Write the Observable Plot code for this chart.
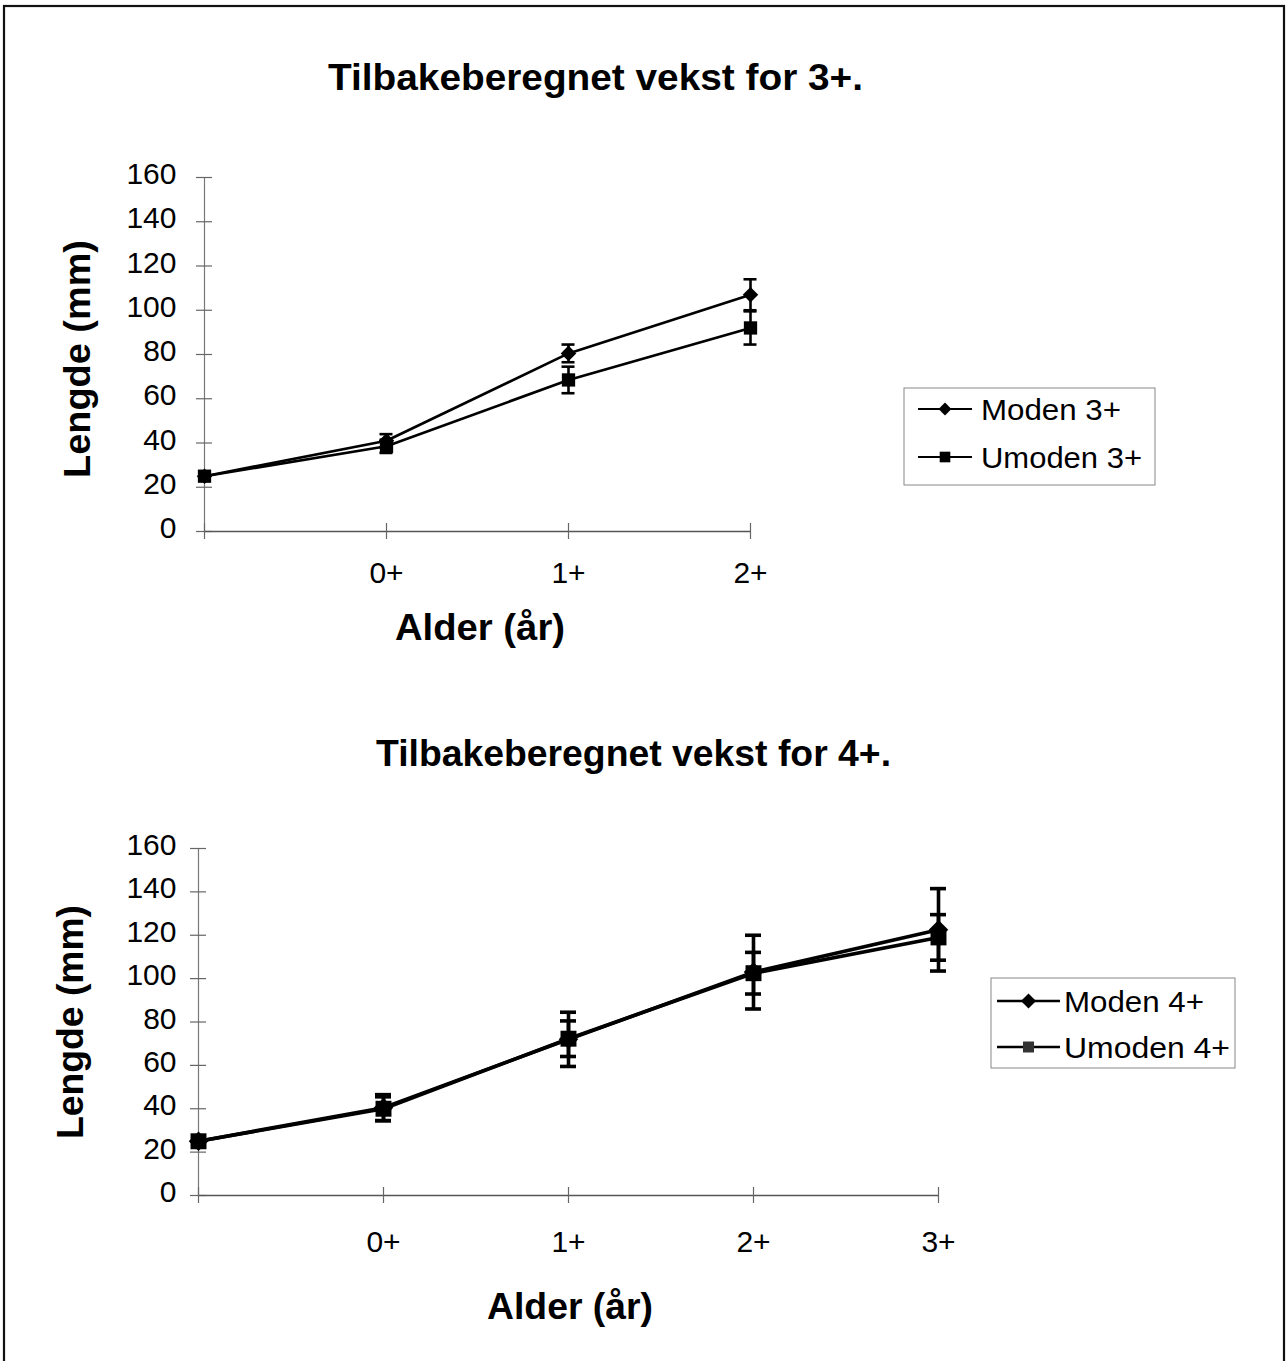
<!DOCTYPE html>
<html>
<head>
<meta charset="utf-8">
<script src="https://cdn.jsdelivr.net/npm/d3@7"></script>
<script src="https://cdn.jsdelivr.net/npm/@observablehq/plot@0.6"></script>
<style>
  body { margin: 0; background: #fff; }
  #page { position: relative; width: 1287px; height: 1361px; overflow: hidden; background: #fff;
          font-family: "Liberation Sans", Arial, sans-serif; }
  #page > svg { position: absolute; }
</style>
</head>
<body>
<div id="page"></div>
<script>
// Back-calculated length (mm) by age, for fish aged 3+ and 4+
const ages3 = ["", "0+", "1+", "2+"];
const moden3 = [25, 41, 80.5, 107];
const moden3Err = [0, 3, 4, 7];
const umoden3 = [25, 38.5, 68.5, 92];
const umoden3Err = [0, 3, 6, 7.5];

const ages4 = ["", "0+", "1+", "2+", "3+"];
const moden4 = [25, 40.5, 72, 103, 122.5];
const moden4Err = [0, 6, 12.5, 17, 19];
const umoden4 = [25, 40, 72.3, 102.5, 119];
const umoden4Err = [0, 5.5, 8.2, 9.6, 10.5];

const yTicks = [0, 20, 40, 60, 80, 100, 120, 140, 160];

const titles = ["Tilbakeberegnet vekst for 3+.", "Tilbakeberegnet vekst for 4+."];
const yLabel = "Lengde (mm)";
const xLabel = "Alder (år)";
const seriesNames3 = ["Moden 3+", "Umoden 3+"];
const seriesNames4 = ["Moden 4+", "Umoden 4+"];

const FONT = '"Liberation Sans", Arial, sans-serif';
const page = document.getElementById("page");

function rows(ages, values, errs) {
  return ages.map((age, i) => ({age, v: values[i], e: errs[i]}));
}

function seriesMarks(data, symbol, r, sw, cap, fill) {
  const withErr = data.filter(d => d.e > 0);
  return [
    Plot.line(data, {x: "age", y: "v", stroke: "#000", strokeWidth: sw, strokeLinejoin: "round"}),
    Plot.ruleX(withErr, {x: "age", y1: d => d.v - d.e, y2: d => d.v + d.e, stroke: "#000", strokeWidth: sw}),
    Plot.ruleY(withErr, {y: d => d.v + d.e, x1: "age", x2: "age", insetLeft: -cap, insetRight: -cap, stroke: "#000", strokeWidth: sw}),
    Plot.ruleY(withErr, {y: d => d.v - d.e, x1: "age", x2: "age", insetLeft: -cap, insetRight: -cap, stroke: "#000", strokeWidth: sw}),
    Plot.dot(data, {x: "age", y: "v", symbol, r, fill, stroke: "none"})
  ];
}

function chart(cfg) {
  const first = cfg.ages[0], last = cfg.ages[cfg.ages.length - 1];
  const svg = Plot.plot({
    width: cfg.width, height: cfg.height,
    marginLeft: cfg.ml, marginRight: cfg.mr, marginTop: cfg.mt, marginBottom: cfg.mb,
    x: {type: "point", domain: cfg.ages, padding: 0, axis: null},
    y: {domain: [0, 160], axis: null},
    style: {fontFamily: FONT, fontSize: "30px", color: "#000", background: "transparent", overflow: "visible"},
    marks: [
      Plot.axisY(yTicks, {tickSize: 0, tickPadding: cfg.yPad, dy: -3, fontSize: 30, label: null}),
      Plot.axisX(cfg.ages, {tickSize: 0, tickPadding: cfg.xPad, fontSize: 30, label: null}),
      // y axis line with cross ticks
      Plot.ruleX([first], {x: d => d, y1: 0, y2: 160, stroke: "#777", strokeWidth: 1.2}),
      Plot.ruleY(yTicks, {y: d => d, x1: () => first, x2: () => first, insetLeft: -8, insetRight: -8, stroke: "#666", strokeWidth: 1.2}),
      // x axis line with cross ticks
      Plot.ruleY([0], {x1: () => first, x2: () => last, stroke: "#555", strokeWidth: 1.3}),
      Plot.ruleX(cfg.ages, {x: d => d, y1: 0, y2: 0, insetTop: -8, insetBottom: -8, stroke: "#666", strokeWidth: 1.2}),
      ...seriesMarks(rows(cfg.ages, cfg.moden, cfg.modenErr), "diamond2", cfg.rD, cfg.sw, cfg.cap, "#000"),
      ...seriesMarks(rows(cfg.ages, cfg.umoden, cfg.umodenErr), "square", cfg.rS, cfg.sw, cfg.cap, "#000")
    ]
  });
  svg.style.left = cfg.left + "px";
  svg.style.top = cfg.top + "px";
  page.appendChild(svg);
}

chart({
  ages: ages3, moden: moden3, modenErr: moden3Err, umoden: umoden3, umodenErr: umoden3Err,
  left: 0, top: 140, width: 800, height: 460, ml: 203, mr: 49, mt: 37, mb: 69,
  yPad: 27, xPad: 30, rD: 7, rS: 7.5, sw: 2.6, cap: 6.5
});

chart({
  ages: ages4, moden: moden4, modenErr: moden4Err, umoden: umoden4, umodenErr: umoden4Err,
  left: 0, top: 810, width: 1000, height: 460, ml: 198, mr: 62, mt: 38, mb: 75,
  yPad: 22, xPad: 35, rD: 8.8, rS: 9, sw: 3.6, cap: 8
});

// Frame, titles, axis titles and legends
const overlay = d3.select(page).append("svg")
  .attr("width", 1287).attr("height", 1361)
  .style("left", "0px").style("top", "0px")
  .style("font-family", FONT);

overlay.append("rect")
  .attr("x", 4).attr("y", 6).attr("width", 1280).attr("height", 1370)
  .attr("fill", "none").attr("stroke", "#111").attr("stroke-width", 2.2);

function label(text, x, y, size, weight, rotate, length) {
  const t = overlay.append("text")
    .attr("text-anchor", "middle")
    .attr("font-size", size).attr("font-weight", weight)
    .attr("fill", "#000")
    .text(text);
  if (length) t.attr("textLength", length).attr("lengthAdjust", "spacingAndGlyphs");
  if (rotate) {
    t.attr("transform", `translate(${x},${y}) rotate(-90)`).attr("y", 0.36 * size);
  } else {
    t.attr("x", x).attr("y", y + 0.358 * size);
  }
}

label(titles[0], 595.5, 77, 36, "bold", false, 535);
label(titles[1], 633.5, 753, 36, "bold", false, 515);
label(xLabel, 480, 627, 37, "bold", false, 170);
label(xLabel, 570, 1306, 37, "bold", false, 166);
label(yLabel, 77, 359, 37, "bold", true, 238);
label(yLabel, 70, 1022, 37, "bold", true, 234);

function legend(cfg) {
  const g = overlay.append("g");
  g.append("rect")
    .attr("x", cfg.x).attr("y", cfg.y).attr("width", cfg.w).attr("height", cfg.h)
    .attr("fill", "#fff").attr("stroke", "#888").attr("stroke-width", 1);
  const symbols = [d3.symbolDiamond2, d3.symbolSquare];
  const sizes = [Math.PI * cfg.rD * cfg.rD, Math.PI * cfg.rS * cfg.rS];
  const fills = ["#000", cfg.squareFill];
  cfg.names.forEach((name, i) => {
    const cy = cfg.rowY[i];
    g.append("line")
      .attr("x1", cfg.lineX[0]).attr("x2", cfg.lineX[1])
      .attr("y1", cy).attr("y2", cy)
      .attr("stroke", "#000").attr("stroke-width", cfg.sw);
    g.append("path")
      .attr("d", d3.symbol(symbols[i], sizes[i])())
      .attr("transform", `translate(${(cfg.lineX[0] + cfg.lineX[1]) / 2},${cy})`)
      .attr("fill", fills[i]);
    g.append("text")
      .attr("x", cfg.textX).attr("y", cy + 0.358 * 30)
      .attr("font-size", 30).attr("fill", "#000")
      .attr("textLength", cfg.textLen[i]).attr("lengthAdjust", "spacingAndGlyphs")
      .text(name);
  });
}

legend({x: 904, y: 388, w: 251, h: 97, rowY: [409, 457], lineX: [918, 972], textX: 981,
        textLen: [140, 161], names: seriesNames3, rD: 5.8, rS: 6, sw: 2, squareFill: "#000"});
legend({x: 991, y: 978, w: 244, h: 90, rowY: [1001, 1047], lineX: [997, 1060], textX: 1064,
        textLen: [140, 166], names: seriesNames4, rD: 6.8, rS: 6.2, sw: 2.5, squareFill: "#333"});
</script>
</body>
</html>
